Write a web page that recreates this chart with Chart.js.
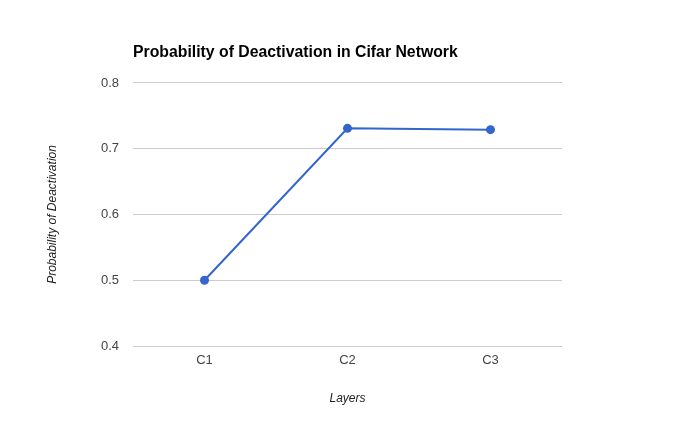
<!DOCTYPE html>
<html>
<head>
<meta charset="utf-8">
<script src="https://cdn.jsdelivr.net/npm/chart.js@4"></script>
<style>
  html, body { margin: 0; padding: 0; background: #fff; }
  #wrap { width: 694px; height: 429px; }
</style>
</head>
<body>
<div id="wrap"><canvas id="chart"></canvas></div>
<script>
const layers = ["C1", "C2", "C3"];
const deactivation = [0.5, 0.731, 0.729];
const yTicks = [0.4, 0.5, 0.6, 0.7, 0.8];

const FONT = "'Liberation Sans', Arial, sans-serif";

new Chart(document.getElementById("chart"), {
  type: "line",
  data: {
    labels: layers,
    datasets: [
      {
        label: "Probability of Deactivation",
        data: deactivation,
        borderColor: "#3366cc",
        backgroundColor: "#3366cc",
        borderWidth: 2,
        pointRadius: 4.5,
        pointBorderWidth: 0,
        tension: 0,
      },
    ],
  },
  options: {
    responsive: true,
    maintainAspectRatio: false,
    animation: false,
    layout: { padding: { left: 0, right: 132, top: 0, bottom: 0 } },
    plugins: {
      legend: { display: false },
      tooltip: { enabled: false },
      title: {
        display: true,
        text: "Probability of Deactivation in Cifar Network",
        align: "start",
        fullSize: false,
        color: "#000",
        font: { family: FONT, size: 15.8, weight: "bold" },
        padding: { top: 43, bottom: 21 },
      },
    },
    scales: {
      x: {
        offset: true,
        grid: { display: false, drawTicks: false },
        border: { display: false },
        ticks: { color: "#444", font: { family: FONT, size: 13 }, padding: 7 },
        title: {
          display: true,
          text: "Layers",
          color: "#222",
          font: { family: FONT, size: 12, style: "italic" },
          padding: { top: 0, bottom: 23 },
        },
        afterFit: (s) => { s.height = 83; },
      },
      y: {
        min: 0.4,
        max: 0.8,
        afterBuildTicks: (s) => { s.ticks = yTicks.map((v) => ({ value: v })); },
        grid: { color: "#cccccc", drawTicks: false },
        border: { display: false },
        ticks: {
          color: "#444",
          font: { family: FONT, size: 13 },
          padding: 14,
          callback: (v) => v.toFixed(1),
        },
        title: {
          display: true,
          text: "Probability of Deactivation",
          color: "#222",
          font: { family: FONT, size: 12, style: "italic" },
          padding: { top: 45, bottom: 0 },
        },
        afterFit: (s) => { s.width = 133; },
      },
    },
  },
});
</script>
</body>
</html>
